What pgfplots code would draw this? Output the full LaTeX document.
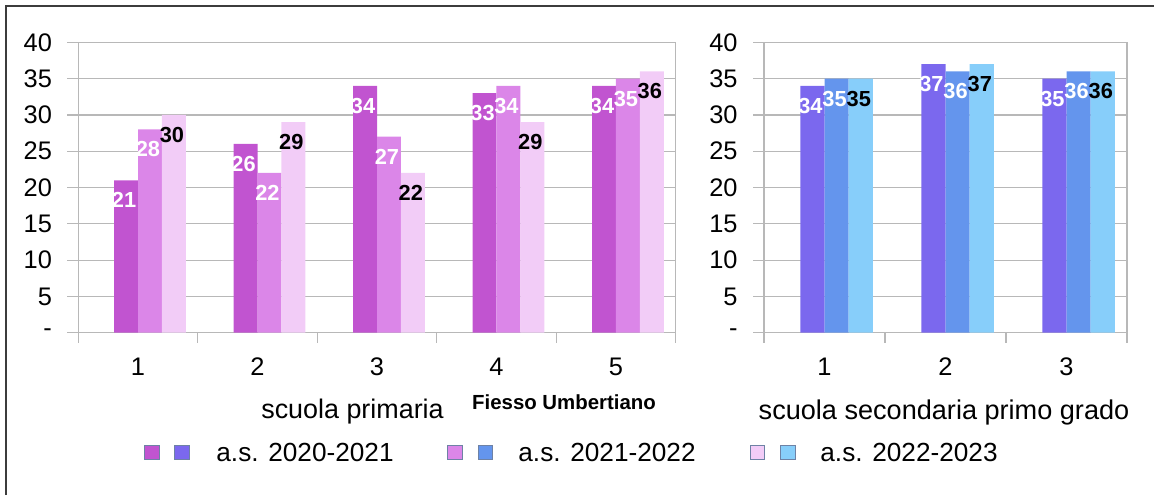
\documentclass[border=0pt]{standalone}
\usepackage{fontspec}
\setmainfont{Liberation Sans}
\usepackage{pgfplots}
\usepackage{pgfplotstable}
\pgfplotsset{compat=1.18}

\definecolor{m1}{HTML}{C154D0}
\definecolor{m2}{HTML}{DB86E8}
\definecolor{m3}{HTML}{F2CCF7}
\definecolor{b1}{HTML}{7B68EE}
\definecolor{b2}{HTML}{6495ED}
\definecolor{b3}{HTML}{87CEFA}
\definecolor{gridc}{HTML}{B8B8B8}
\definecolor{framec}{HTML}{3C3C3C}
\definecolor{legb}{HTML}{6E82A5}

\pgfplotstableread{
cat a b c
1 21 28 30
2 26 22 29
3 34 27 22
4 33 34 29
5 34 35 36
}\prim
\pgfplotstableread{
cat a b c
1 34 35 35
2 37 36 37
3 35 36 36
}\second

\pgfplotsset{
  mybar/.style={
    scale only axis, height=145.2pt,
    ymin=0, ymax=40,
    ytick={0,5,...,40},
    yticklabels={-,5,10,15,20,25,30,35,40},
    ymajorgrids, grid style={gridc, line width=0.6pt},
    axis line style={gridc, line width=0.6pt},
    tick style={gridc, line width=0.6pt},
    tick align=outside,
    major tick length=5.5pt, minor tick length=5pt,
    ytick pos=left, xtick pos=bottom,
    major x tick style={draw=none},
    ybar, bar width=0.2,
    xmin=0.5,
    ticklabel style={font=\fontsize{12.7}{15}\selectfont, text=black},
    /pgf/number format/assume math mode=true,
    yticklabel style={anchor=east, inner sep=0pt, xshift=-7.5pt},
    xticklabel style={anchor=center, inner sep=0pt, yshift=-11.5pt},
    every node near coord/.append style={font=\fontsize{10.9}{12}\selectfont\bfseries, anchor=center, yshift=-10pt, xshift=-1pt},
  }
}

\begin{document}
\begin{tikzpicture}
\useasboundingbox (0,0) rectangle (577pt,247.5pt);
% frame (left and top edges)
\draw[framec, line width=0.8pt] (3pt,0) -- (3pt,244.5pt) -- (577pt,244.5pt);

\begin{axis}[mybar, at={(39.15pt,81.15pt)}, anchor=south west,
  width=298.7pt, xmax=5.5,
  xtick={1,2,3,4,5}, minor xtick={0.5,1.5,...,5.5}]
\addplot[fill=m1, draw=none, bar shift=-0.1, nodes near coords, every node near coord/.append style={text=white}] table[x=cat,y=a]{\prim};
\addplot[fill=m2, draw=none, bar shift=0.1, nodes near coords, every node near coord/.append style={text=white}] table[x=cat,y=b]{\prim};
\addplot[fill=m3, draw=none, bar shift=0.3, nodes near coords, every node near coord/.append style={text=black}] table[x=cat,y=c]{\prim};
\end{axis}

\begin{axis}[mybar, at={(382pt,81.15pt)}, anchor=south west,
  width=181.5pt, xmax=3.5,
  xtick={1,2,3}, minor xtick={0.5,1.5,...,3.5}]
\addplot[fill=b1, draw=none, bar shift=-0.1, nodes near coords, every node near coord/.append style={text=white}] table[x=cat,y=a]{\second};
\addplot[fill=b2, draw=none, bar shift=0.1, nodes near coords, every node near coord/.append style={text=white}] table[x=cat,y=b]{\second};
\addplot[fill=b3, draw=none, bar shift=0.3, nodes near coords, every node near coord/.append style={text=black}] table[x=cat,y=c]{\second};
\end{axis}

% titles
\node[font=\fontsize{13.45}{15}\selectfont] at (176.25pt,41.5pt) {scuola primaria};
\node[font=\fontsize{13.55}{15}\selectfont] at (472pt,41.5pt) {scuola secondaria primo grado};
\node[font=\fontsize{10.2}{12}\selectfont\bfseries] at (282pt,46.5pt) {Fiesso Umbertiano};

% legend
\foreach \xa/\xb/\ca/\cb/\xt/\txt in {76/91/m1/b1/108/{a.s. 2020-2021}, 227.5/242.75/m2/b2/259/{a.s. 2021-2022}, 378.75/394/m3/b3/410/{a.s. 2022-2023}}{
  \draw[legb, line width=0.4pt, fill=\ca] (\xa pt-3.6pt,17.6pt) rectangle (\xa pt+3.6pt,24.8pt);
  \draw[legb, line width=0.4pt, fill=\cb] (\xb pt-3.6pt,17.6pt) rectangle (\xb pt+3.6pt,24.8pt);
  \node[anchor=west, inner sep=0pt, font=\fontsize{13.1}{15}\selectfont] at (\xt pt,21.5pt) {\txt};
}
\end{tikzpicture}
\end{document}
